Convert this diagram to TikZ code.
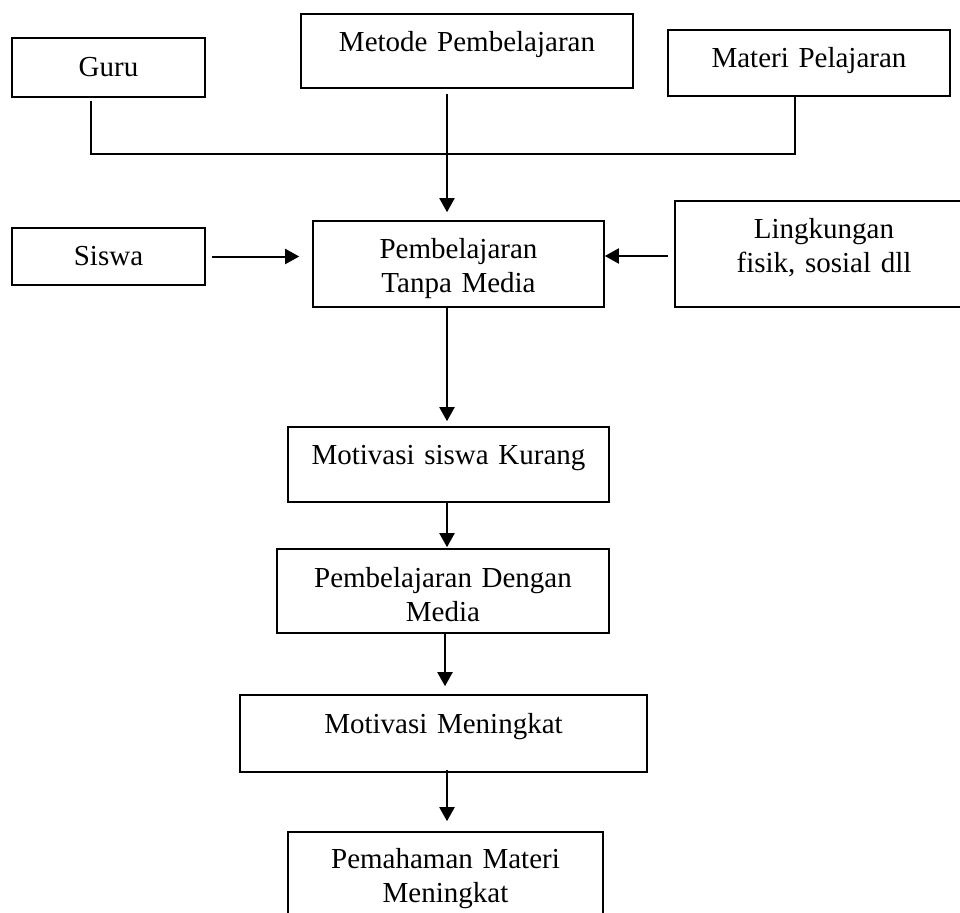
\documentclass[tikz,border=0pt]{standalone}
\usepackage{fontspec}
\setmainfont{Liberation Serif}
\usetikzlibrary{arrows.meta, positioning, calc}

\begin{document}
\begin{tikzpicture}[
        x=1pt, y=-1pt,
        >={Triangle[length=14pt, width=15pt]}, % kepala panah segitiga
        kotak/.style={draw, line width=1.6pt, inner sep=0pt, align=center,
                      anchor=base, font=\fontsize{29}{34}\selectfont},
        garis/.style={line width=2pt}
    ]
    % --- batas gambar ---
    \useasboundingbox (0,0) rectangle (960,912);
    \clip (0,0) rectangle (960,912);

    % --- baris atas ---
    \node[kotak, text width=193pt, text height=39pt, text depth=20pt] (guru) at (108.5,77) {Guru};
    \node[kotak, text width=332pt, text height=38pt, text depth=36pt] (metode) at (467,52) {Metode Pembelajaran};
    \node[kotak, text width=282pt, text height=38pt, text depth=28pt] (materi) at (809,68) {Materi Pelajaran};

    % --- baris tengah ---
    \node[kotak, text width=193pt, text height=37pt, text depth=20pt] (siswa) at (108.5,265) {Siswa};
    \node[kotak, text width=291pt, text height=37pt, text depth=49pt] (tanpa) at (458.5,258) {Pembelajaran\\Tanpa Media};
    \node[kotak, text width=298pt, text height=37pt, text depth=69pt] (lingkungan) at (824,238) {Lingkungan\\fisik, sosial dll};

    % --- alur ke bawah ---
    \node[kotak, text width=321pt, text height=37pt, text depth=38pt] (kurang) at (448.5,464) {Motivasi siswa Kurang};
    \node[kotak, text width=332pt, text height=38pt, text depth=46pt] (dengan) at (443,587) {Pembelajaran Dengan\\Media};
    \node[kotak, text width=407pt, text height=38pt, text depth=39pt] (meningkat) at (443.5,733) {Motivasi Meningkat};
    \node[kotak, text width=315pt, text height=36pt, text depth=60pt] (paham) at (445.5,868) {Pemahaman Materi\\Meningkat};

    % --- garis penghubung atas ---
    \draw[garis] ([xshift=-17.5pt, yshift=-3pt]guru.south) |- ([xshift=-14pt]materi.south |- 0,154)
        -- ([xshift=-14pt]materi.south);
    \draw[garis, ->, shorten <=5pt, shorten >=8pt] ([xshift=-20pt]metode.south) -- ([xshift=-20pt]metode.south |- tanpa.north);

    % --- panah samping ---
    \draw[garis, ->, shorten <=6pt, shorten >=13pt] (siswa.east) -- (siswa.east -| tanpa.west);
    \draw[garis, ->, shorten <=6pt] ([yshift=-2pt]lingkungan.west) -- ([yshift=-2pt]lingkungan.west -| tanpa.east);

    % --- panah vertikal ---
    \draw[garis, ->, shorten >=5pt] ([xshift=-11.5pt]tanpa.south) -- ([xshift=-11.5pt]tanpa.south |- kurang.north);
    \draw[garis, ->, shorten >=1pt] ([xshift=-1.5pt]kurang.south) -- ([xshift=-1.5pt]kurang.south |- dengan.north);
    \draw[garis, ->, shorten >=8pt] ([xshift=2pt]dengan.south) -- ([xshift=2pt]dengan.south |- meningkat.north);
    \draw[garis, ->, shorten <=-3pt, shorten >=10pt] ([xshift=3.5pt]meningkat.south) -- ([xshift=3.5pt]meningkat.south |- paham.north);
\end{tikzpicture}
\end{document}
